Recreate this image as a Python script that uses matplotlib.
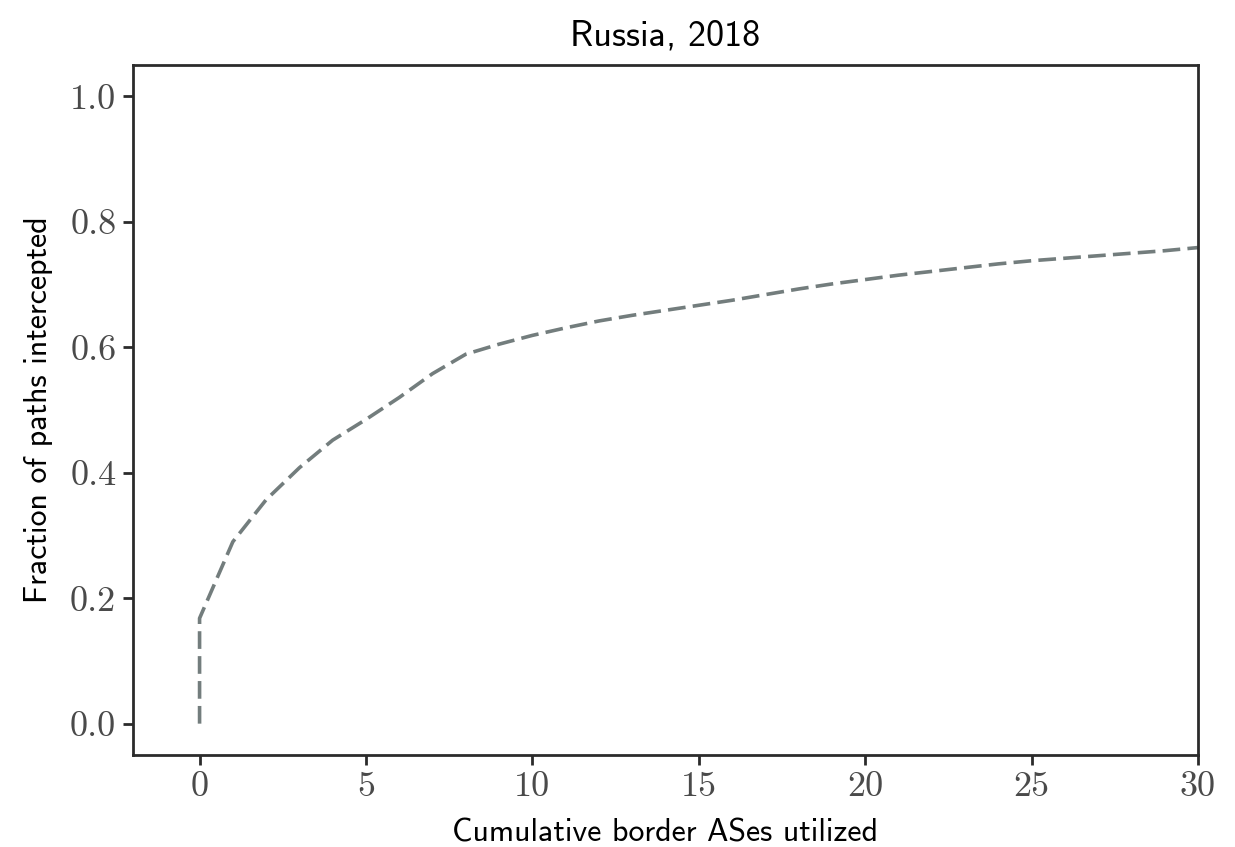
import numpy as np
import matplotlib
matplotlib.use("Agg")
import matplotlib.pyplot as plt

# --------------------------------
# Data
# --------------------------------
title = "Russia, 2018"
x_label = "Cumulative border ASes utilized"
y_label = "Fraction of paths intercepted"

n_ases = [0, 0, 1, 2, 3, 4, 5, 6, 7, 8, 9, 10,
          11, 12, 13, 14, 15, 16, 17, 18, 19, 20,
          21, 22, 23, 24, 25, 26, 27, 28, 29, 30]
frac_intercepted = [0.0, 0.168, 0.29, 0.357, 0.408, 0.452, 0.485, 0.52, 0.558, 0.589, 0.605, 0.619,
                    0.631, 0.642, 0.651, 0.659, 0.667, 0.675, 0.684, 0.693, 0.701, 0.708,
                    0.715, 0.721, 0.727, 0.733, 0.738, 0.742, 0.746, 0.750, 0.754, 0.759]

x_ticks = [0, 5, 10, 15, 20, 25, 30]
y_ticks = [0.0, 0.2, 0.4, 0.6, 0.8, 1.0]

# --------------------------------
# Plot
# --------------------------------
plt.rcParams["axes.formatter.use_mathtext"] = True

fig = plt.figure(figsize=(12.35, 8.47), dpi=100)
ax = fig.add_axes([0.1077, 0.1086, 0.8623, 0.8146])

ax.plot(n_ases, frac_intercepted, color="#737d7d", linewidth=2.6,
        linestyle=(0, (4.9, 2.0)))

ax.set_xlim(-2, 30)
ax.set_ylim(-0.05, 1.05)
ax.set_xticks(x_ticks)
ax.set_yticks(y_ticks)
ax.set_xticklabels([str(t) for t in x_ticks], family="cmr10", fontsize=26)
ax.set_yticklabels([f"{t:.1f}" for t in y_ticks], family="cmr10", fontsize=26)

ax.set_title(title, family="cmss10", fontsize=26, pad=14)
ax.set_xlabel(x_label, family="cmss10", fontsize=23, labelpad=11)
ax.set_ylabel(y_label, family="cmss10", fontsize=23, labelpad=12)

for s in ax.spines.values():
    s.set_linewidth(2.0)
    s.set_color("#2b2b2b")
ax.tick_params(length=7, width=2.0, color="#2b2b2b", pad=5, labelcolor="#4a4a4a")

fig.savefig("out.png", dpi=100)
